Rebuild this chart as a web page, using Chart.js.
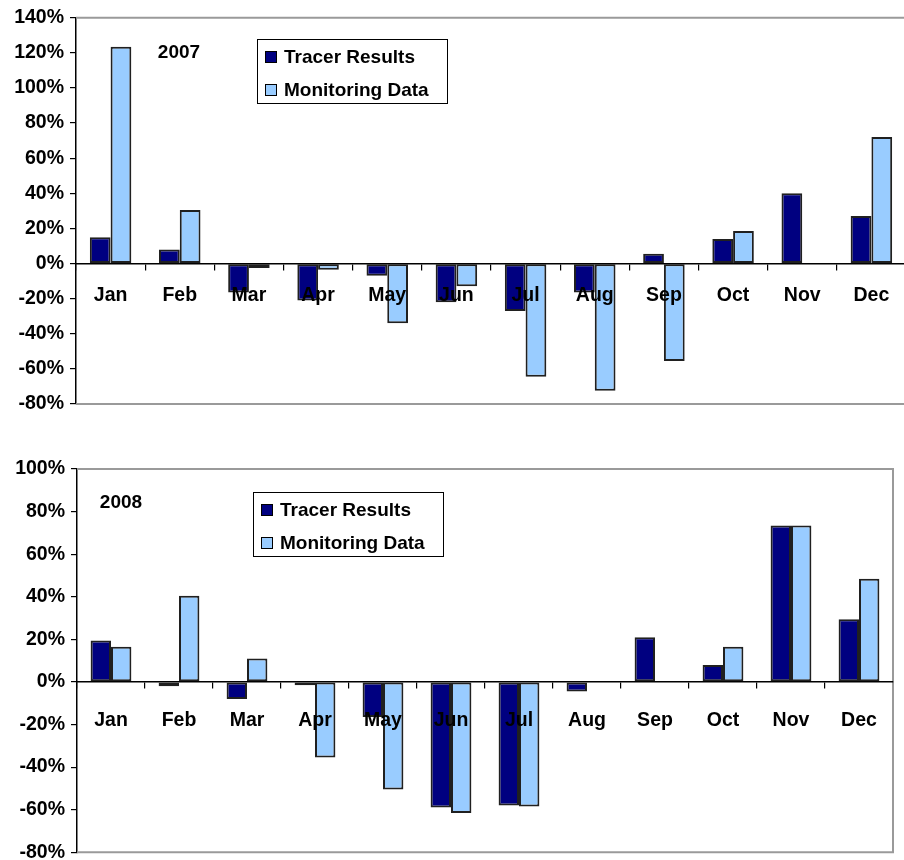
<!DOCTYPE html>
<html>
<head>
<meta charset="utf-8">
<script src="https://cdn.jsdelivr.net/npm/chart.js@4.4.1/dist/chart.umd.min.js"></script>
<style>
  html, body { margin: 0; padding: 0; background: #fff; overflow: hidden; width: 904px; height: 860px; }
  #top { position: absolute; left: 0; top: 0; }
  #bottom { position: absolute; left: 0; top: 440px; }
</style>
</head>
<body>
<canvas id="top" width="910" height="430"></canvas>
<canvas id="bottom" width="904" height="430"></canvas>
<script>
// monthly deviation, in percent
const months = ['Jan', 'Feb', 'Mar', 'Apr', 'May', 'Jun', 'Jul', 'Aug', 'Sep', 'Oct', 'Nov', 'Dec']

const tracer2007 = [15, 8, -16.5, -21, -7, -22, -27, -16.5, 5.5, 14, 40, 27]
const monitoring2007 = [123.5, 30.5, -2.5, -3.5, -34, -13, -64.5, -72.5, -55.5, 18.5, null, 72]

const tracer2008 = [19.5, -2, -8, -1.5, -16.5, -59, -58, -4.5, 21, 8, 73.5, 29.5]
const monitoring2008 = [16.5, 40.5, 11, -35.5, -50.5, -61.5, -58.5, null, null, 16.5, 73.5, 48.5]

const seriesNames = ['Tracer Results', 'Monitoring Data']
const NAVY = '#000080'
const SKY = '#99ccff'
const FONT = "'Liberation Sans', Arial, Helvetica, sans-serif"

// gray plot frame, year caption and the boxed key
const frameAndKey = {
  id: 'frameAndKey',
  beforeDatasetsDraw(chart) {
    const { ctx, chartArea: a } = chart
    ctx.save()
    ctx.strokeStyle = '#9a9a9a'
    ctx.lineWidth = 2
    ctx.beginPath()
    ctx.moveTo(a.left, a.top)
    ctx.lineTo(a.right, a.top)
    ctx.lineTo(a.right, a.bottom)
    ctx.lineTo(a.left, a.bottom)
    ctx.stroke()
    ctx.restore()
  },
  afterDraw(chart, args, opts) {
    const ctx = chart.ctx
    ctx.save()
    ctx.font = 'bold 19px ' + FONT
    ctx.fillStyle = '#000'
    ctx.textBaseline = 'middle'
    ctx.textAlign = 'center'
    ctx.fillText(opts.caption, opts.captionX, opts.captionY)

    const k = opts.key
    ctx.fillStyle = '#fff'
    ctx.fillRect(k.x, k.y, k.w, k.h)
    ctx.strokeStyle = '#000'
    ctx.lineWidth = 1
    ctx.strokeRect(k.x + 0.5, k.y + 0.5, k.w, k.h)
    ctx.textAlign = 'left'
    chart.data.datasets.forEach((ds, i) => {
      const cy = k.y + 18 + i * 33
      ctx.fillStyle = ds.backgroundColor
      ctx.fillRect(k.x + 8, cy - 6, 12, 12)
      ctx.strokeStyle = '#000'
      ctx.strokeRect(k.x + 8.5, cy - 5.5, 11, 11)
      ctx.fillStyle = '#000'
      ctx.fillText(ds.label, k.x + 27, cy + 1)
    })
    ctx.restore()
  }
}

function makeChart(id, tracer, monitoring, yMax, padding, labelPad, plugOpts) {
  return new Chart(document.getElementById(id), {
    type: 'bar',
    data: {
      labels: months,
      datasets: [
        { label: seriesNames[0], data: tracer, backgroundColor: NAVY },
        { label: seriesNames[1], data: monitoring, backgroundColor: SKY }
      ]
    },
    options: {
      responsive: false,
      animation: false,
      layout: { padding },
      datasets: {
        bar: {
          categoryPercentage: 0.6,
          barPercentage: 1.0,
          borderColor: '#202020',
          borderWidth: 2,
          borderSkipped: false
        }
      },
      scales: {
        x: {
          position: { y: 0 },
          offset: true,
          border: { color: '#000', width: 1.5, z: 1 },
          grid: { drawOnChartArea: false, offset: true, tickColor: '#000', tickLength: 6, lineWidth: 1.2 },
          // month names sit over the bars
          ticks: { z: 1, color: '#000', padding: labelPad, maxRotation: 0, font: { family: FONT, size: 19.5, weight: 'bold' } }
        },
        y: {
          min: -80,
          max: yMax,
          afterFit(scale) { scale.width = plugOpts.axisLeft },
          border: { color: '#000', width: 1.5 },
          grid: { drawOnChartArea: false, tickColor: '#000', tickLength: 6, lineWidth: 1.2 },
          ticks: {
            stepSize: 20,
            padding: 6,
            color: '#000',
            font: { family: FONT, size: 19.5, weight: 'bold' },
            callback: v => v + '%'
          }
        }
      },
      plugins: {
        legend: { display: false },
        tooltip: { enabled: false },
        frameAndKey: plugOpts
      }
    },
    plugins: [frameAndKey]
  })
}

makeChart('top', tracer2007, monitoring2007, 140,
  { top: 16, right: 4, bottom: 26, left: 0 }, 14,
  { axisLeft: 76, caption: '2007', captionX: 179, captionY: 53, key: { x: 257, y: 39, w: 190, h: 64 } })

makeChart('bottom', tracer2008, monitoring2008, 100,
  { top: 29, right: 11, bottom: 17, left: 0 }, 21,
  { axisLeft: 77, caption: '2008', captionX: 121, captionY: 63, key: { x: 253, y: 52, w: 190, h: 64 } })
</script>
</body>
</html>
